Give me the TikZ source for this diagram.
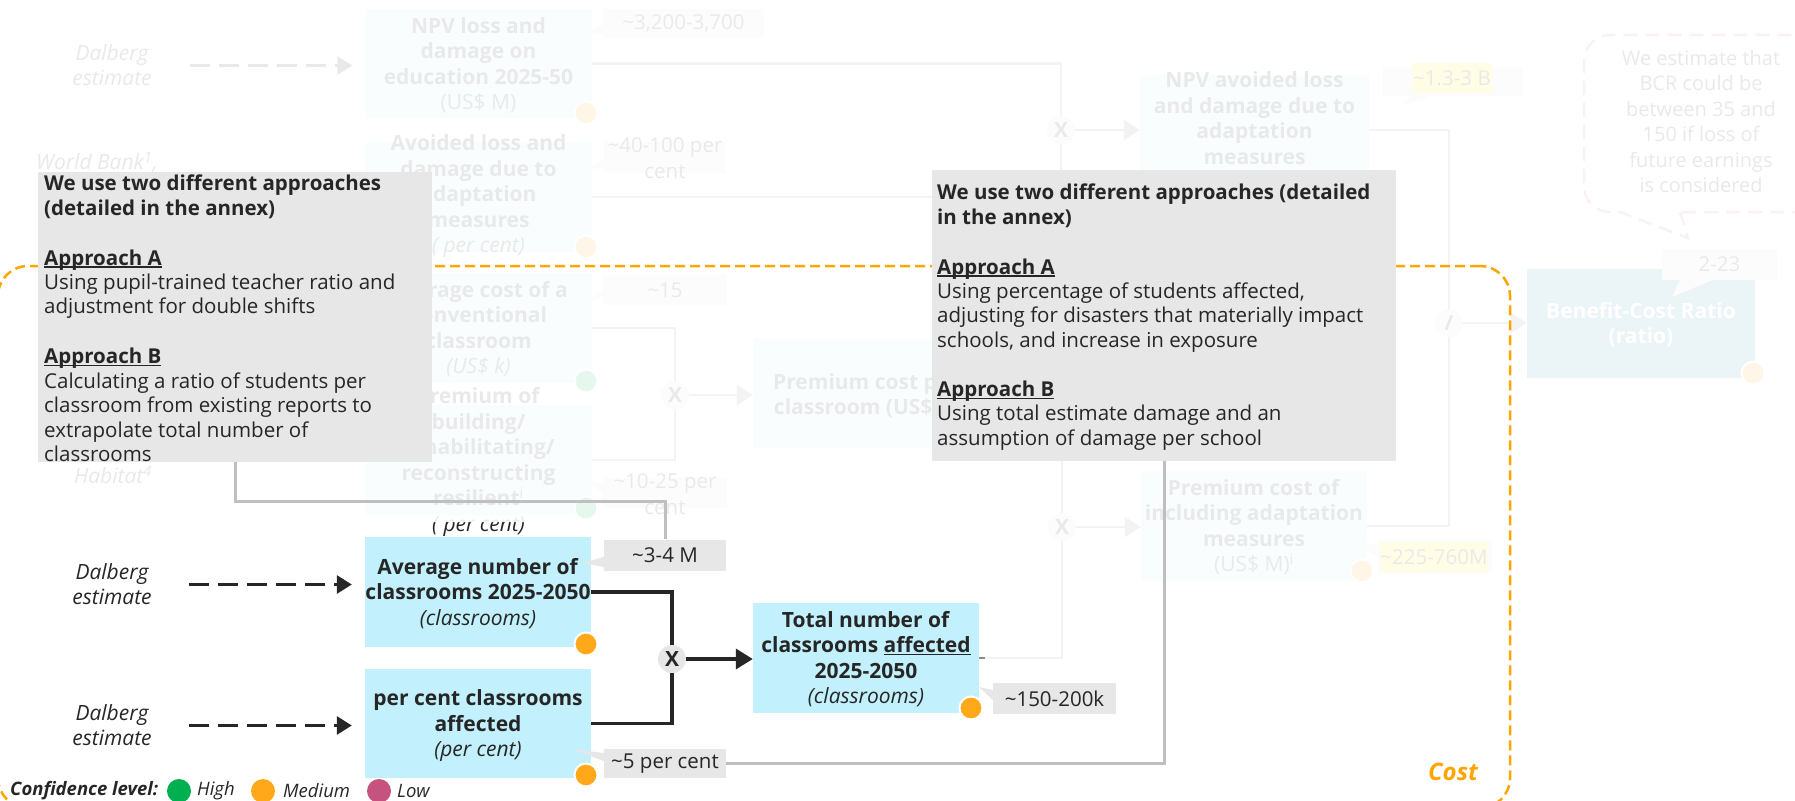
\documentclass[tikz,border=0pt]{standalone}
\usepackage{fontspec}
\setmainfont{Open Sans}
\usetikzlibrary{arrows.meta}

\definecolor{ink}{HTML}{262626}
\definecolor{cyanbox}{HTML}{C2F0FC}
\definecolor{greybox}{HTML}{E7E7E7}
\definecolor{dotorange}{HTML}{FFA91A}
\definecolor{dotgreen}{HTML}{00B050}
\definecolor{dotpink}{HTML}{C5527F}
\definecolor{costorange}{HTML}{FFA500}
\definecolor{linkgrey}{HTML}{BFBFBF}
\definecolor{bgline}{HTML}{8C8C8C}
\definecolor{bcrteal}{HTML}{3A92B0}
\definecolor{xfill}{HTML}{E6E6E6}
\definecolor{bubblepink}{HTML}{D86E8C}

\newcommand\bxfont{\fontsize{21}{25.5}\selectfont}
\newcommand\grfont{\fontsize{20.5}{24.4}\selectfont}
\newcommand\clfont{\fontsize{20.5}{26}\selectfont}
\newcommand\lbfont{\itshape\fontsize{21}{25}\selectfont}
\newcommand\lgfont{\fontsize{18.5}{21}\selectfont}
% underline drawn just under the baseline, through the descenders
\newcommand\ulbase[1]{\setbox0\hbox{#1}\rlap{\rule[-2.6pt]{\wd0}{1.3pt}}\box0}

\tikzset{
  cbox/.style={rectangle, fill=cyanbox, inner sep=0pt, minimum width=226pt, minimum height=110pt},
  btxt/.style={align=center, font=\bxfont, text=ink, inner sep=0pt},
  note/.style={rectangle, fill=greybox, inner sep=0pt},
  ntxt/.style={align=left, font=\grfont, text=ink, inner sep=0pt, anchor=north west},
  callout/.style={rectangle, fill=greybox, inner sep=0pt, minimum width=122pt, minimum height=31pt, font=\clfont, text=ink, align=center},
  lbl/.style={align=center, font=\lbfont, text=ink, inner sep=0pt},
  dot/.style={circle, fill=#1, draw=white, line width=2pt, minimum size=23pt, inner sep=0pt},
  legdot/.style={circle, fill=#1, minimum size=24pt, inner sep=0pt},
  opnode/.style={circle, fill=xfill, minimum size=28pt, inner sep=0pt, font=\bxfont\bfseries, text=ink},
  dasharrow/.style={draw=ink, line width=3pt, dash pattern=on 20pt off 9pt, -{Triangle[length=15pt,width=18pt]}},
  blk/.style={draw=ink, line width=3.5pt},
  blkarrow/.style={blk, -{Triangle[length=17pt,width=20pt]}},
  link/.style={draw=linkgrey, line width=3pt},
  bgl/.style={draw=bgline, line width=2.5pt},
  bgarrow/.style={bgl, -{Triangle[length=16pt,width=20pt]}},
}

\begin{document}
\begin{tikzpicture}[x=1pt,y=-1pt]
\useasboundingbox (0,0) rectangle (1795,800);
\clip (0,0) rectangle (1795,800);

% ===== benefit side and cost premium (shown greyed out) =====
\node[lbl] (dal0) at (112,65.5) {Dalberg\\estimate};
\node[lbl, anchor=west] (wb) at (36,162) {World Bank\textsuperscript{1},};
\node[lbl] (hab) at (113,475) {Habitat\textsuperscript{4}};

\node[cbox, minimum height=109pt] (b1) at (478.5,63.5) {};
\node[cbox] (b2) at (478.5,197) {};
\node[cbox] (b3) at (478.5,328) {};
\node[cbox] (b4) at (478.5,460) {};
\node[cbox, minimum height=109pt] (b5) at (866,393.5) {};
\node[cbox] (b6) at (1254,526) {};
\node[cbox, minimum width=229pt] (b7) at (1254.5,130) {};
\node[rectangle, fill=bcrteal, inner sep=0pt, minimum width=228pt, minimum height=109pt] (bcr) at (1641,323.5) {};

\draw[dasharrow] ([xshift=38pt]dal0.east) -- ([xshift=-13pt]b1.west |- dal0.east);

% operators
\node[opnode] (xa) at (1061,130) {X};
\node[opnode] (xb) at (675,395) {X};
\node[opnode] (xc) at (1062,527) {X};
\node[opnode] (xs) at (1449,323) {/};

% total classrooms affected (feeds the premium branch)
\node[cbox] (tot) at (866,658) {};
\node[btxt] (tott) at (866,659) {\textbf{Total number of}\\\textbf{classrooms \ulbase{affected}}\\\textbf{2025-2050}\\\textit{(classrooms)}};
\node[dot=dotorange] (totd) at (971,708) {};

\draw[bgl] (b1.east) -| (xa.north);
\draw[bgl] (b2.east) -| (xa.south);
\draw[bgarrow] (xa.east) -- (xa.east -| b7.west);
\draw[bgl] (b3.east) -| (xb.north);
\draw[bgl] (b4.east) -| (xb.south);
\draw[bgarrow] (xb.east) -- (xb.east -| b5.west);
\draw[bgl] (b5.east) -| (xc.north);
\draw[bgl] (tot.east) -| (xc.south);
\draw[bgarrow] (xc.east) -- (xc.east -| b6.west);
\draw[bgl] (b7.east) -| (xs.north);
\draw[bgl] (b6.east) -| (xs.south);
\draw[bgarrow] (xs.east) -- (xs.east -| bcr.west);

\node[btxt] (b1t) at (478.5,65) {\textbf{NPV loss and}\\\textbf{damage on}\\\textbf{education 2025-50}\\(US\$ M)};
\node[btxt] (b2t) at (478.5,196.5) {\textbf{Avoided loss and}\\\textbf{damage due to}\\\textbf{adaptation}\\\textbf{measures}\\\textit{( per cent)}};
\node[btxt] (b3t) at (478.5,329) {\textbf{Average cost of a}\\\textbf{conventional}\\\textbf{classroom}\\\textit{(US\$ k)}};
\node[btxt] (b4t) at (478.5,462) {\textbf{Premium of}\\\textbf{building/}\\\textbf{rehabilitating/}\\\textbf{reconstructing}\\\textbf{resilient}\textsuperscript{i}\\\textit{( per cent)}};
\node[btxt] (b5t) at (866,395.5) {\textbf{Premium cost per}\\\textbf{classroom (US\$ k)}};
\node[btxt] (b6t) at (1254,527) {\textbf{Premium cost of}\\\textbf{including adaptation}\\\textbf{measures}\\(US\$ M)\textsuperscript{i}};
\node[btxt] (b7t) at (1254.5,118) {\textbf{NPV avoided loss}\\\textbf{and damage due to}\\\textbf{adaptation}\\\textbf{measures}};
\node[btxt, text=white] (bcrt) at (1641,324.5) {\textbf{Benefit-Cost Ratio}\\\textbf{(ratio)}};

\node[dot=dotorange] (b1d) at (586,113) {};
\node[dot=dotorange] (b2d) at (586,247) {};
\node[dot=dotgreen] (b3d) at (586,381) {};
\node[dot=dotgreen] (b4d) at (586,508) {};
\node[dot=dotorange] (b6d) at (1362,571) {};
\node[dot=dotorange] (bcrd) at (1753,373) {};

% value callouts
\node[callout, minimum width=161pt, minimum height=29pt] (c3200) at (683.5,23.5) {\textasciitilde 3,200-3,700};
\fill[greybox] ([yshift=-2pt]c3200.west) -- (577,35) -- ([yshift=-10pt]c3200.west) -- cycle;
\node[callout] (c40) at (665,157.5) {};
\fill[greybox] ([yshift=-2.5pt]c40.west) -- (577,173) -- ([yshift=-9.5pt]c40.west) -- cycle;
\node[font=\clfont, text=ink, align=center, inner sep=0pt] (c40t) at (665,158.5) {\textasciitilde 40-100 per\\cent};
\node[callout, minimum width=124pt, minimum height=30pt] (c15) at (665,290) {\textasciitilde 15};
\fill[greybox] ([yshift=-2pt]c15.west) -- (577,305) -- ([yshift=-7pt]c15.west) -- cycle;
\node[callout, minimum width=124pt, minimum height=30pt] (c10) at (665,493) {};
\fill[greybox] ([yshift=9pt]c10.west) -- (578,478) -- ([yshift=1pt]c10.west) -- cycle;
\node[font=\clfont, text=ink, align=center, inner sep=0pt] (c10t) at (665,494.5) {\textasciitilde 10-25 per\\cent};
\node[callout, minimum width=140pt, minimum height=29pt] (c13) at (1453,81.5) {};
\fill[greybox] ([xshift=27pt]c13.south west) -- (1402,106) -- ([xshift=47pt]c13.south west) -- cycle;
\node[fill=yellow, inner sep=0pt, minimum width=80pt, minimum height=30pt, font=\clfont, text=ink] (c13t) at (1452,78) {\textasciitilde 1.3-3 B};
\node[callout, minimum width=115pt, minimum height=31pt] (c223) at (1719.5,264.5) {2-23};
\fill[greybox] ([xshift=18pt]c223.south west) -- (1672,297) -- ([xshift=50pt]c223.south west) -- cycle;
\node[callout, minimum width=114pt, minimum height=33pt] (c225) at (1435,556.5) {};
\fill[greybox] ([yshift=10pt]c225.west) -- (1343,537) -- ([yshift=0pt]c225.west) -- cycle;
\node[fill=yellow, inner sep=0pt, minimum width=108pt, minimum height=30pt, font=\clfont, text=ink] (c225t) at (1434,557) {\textasciitilde 225-760M};

% speech bubble on the ratio
\draw[bubblepink, line width=2.5pt, dash pattern=on 14pt off 8pt] (1680,212) -- (1688,238) -- (1620,212) [rounded corners=26pt] -- (1584,212) -- (1584,35) -- (1830,35) [sharp corners] -- (1830,212) -- cycle;
\node[font=\fontsize{20}{25.4}\selectfont, text=ink, align=center, inner sep=0pt] (bub) at (1701,121.5) {We estimate that\\BCR could be\\between 35 and\\150 if loss of\\future earnings\\is considered};

% wash over everything outside the cost build-up
\fill[white, opacity=0.9] (-5,-5) rectangle (1800,522) (985,522) rectangle (1800,805);

% ===== cost frame =====
\node[draw=costorange, line width=2.5pt, dash pattern=on 10pt off 5pt, rounded corners=30pt, minimum width=1512pt, minimum height=542pt, inner sep=0pt] (costzone) at (754,537) {};
\node[font=\bfseries\itshape\fontsize{24}{28}\selectfont, text=costorange, inner sep=0pt] (costlbl) at (1453,772) {Cost};

% ===== method notes =====
\node[note, minimum width=394pt, minimum height=290pt] (nl) at (235,317) {};
\node[ntxt] (nlt) at (44,175) {\textbf{We use two different approaches}\\\textbf{(detailed in the annex)}\\[25.5pt]\ulbase{\textbf{Approach A}}\\Using pupil-trained teacher ratio and\\adjustment for double shifts\\[25.5pt]\ulbase{\textbf{Approach B}}\\Calculating a ratio of students per\\classroom from existing reports to\\extrapolate total number of\\classrooms};
\node[note, minimum width=464pt, minimum height=291pt] (nr) at (1164,315.5) {};
\node[ntxt] (nrt) at (937,184) {\textbf{We use two different approaches (detailed}\\\textbf{in the annex)}\\[25.5pt]\ulbase{\textbf{Approach A}}\\Using percentage of students affected,\\adjusting for disasters that materially impact\\schools, and increase in exposure\\[24.5pt]\ulbase{\textbf{Approach B}}\\Using total estimate damage and an\\assumption of damage per school};

% ===== classroom count chain =====
\node[lbl] (dal1) at (112,584.5) {Dalberg\\estimate};
\node[lbl] (dal2) at (112,725.5) {Dalberg\\estimate};
\node[cbox] (avg) at (478,592) {};
\node[cbox, minimum height=109pt] (pct) at (478,723.5) {};
\draw[dasharrow] ([xshift=37pt]dal1.east) -- ([xshift=-13pt]avg.west |- dal1.east);
\draw[dasharrow] ([xshift=37pt]dal2.east) -- ([xshift=-13pt]pct.west |- dal2.east);
\node[btxt] (avgt) at (478,593.5) {\textbf{Average number of}\\\textbf{classrooms 2025-2050}\\\textit{(classrooms)}};
\node[btxt] (pctt) at (478,726) {\textbf{per cent classrooms}\\\textbf{affected}\\\textit{(per cent)}};
\node[dot=dotorange] (avgd) at (586,644) {};
\node[dot=dotorange] (pctd) at (586,775) {};

\node[opnode] (x1) at (672,659) {X};
\draw[blk] (avg.east) -| (x1.north);
\draw[blk] (pct.east) -| (x1.south);
\draw[blkarrow] (x1.east) -- (x1.east -| tot.west);

\node[callout] (c34) at (665,555) {\textasciitilde 3-4 M};
\fill[greybox] ([yshift=-2pt]c34.west) -- (582,563) -- ([yshift=-12pt]c34.west) -- cycle;
\node[callout, minimum height=29pt] (c5) at (665,763.5) {\textasciitilde 5 per cent};
\fill[greybox] ([yshift=10.5pt]c5.west) -- (571,749) -- ([yshift=2.5pt]c5.west) -- cycle;
\node[callout, minimum width=123pt] (c150) at (1054.5,698.5) {\textasciitilde 150-200k};
\fill[greybox] ([yshift=8.5pt]c150.west) -- (979,687) -- ([yshift=-1.5pt]c150.west) -- cycle;

% notes tied to the values they explain
\draw[link] (nl.south) |- ([yshift=38pt]c34.north) -- (c34.north);
\draw[link] (c5.east) -| (nr.south);

% ===== legend =====
\node[font=\lgfont\bfseries\itshape, text=ink, anchor=west, inner sep=0pt] (legt) at (10,791) {Confidence level:};
\node[legdot=dotgreen] (leg1) at (179,791) {};
\node[font=\lgfont\itshape, text=ink, anchor=west, inner sep=0pt] (leg1t) at (197,791) {High};
\node[legdot=dotorange] (leg2) at (263,791) {};
\node[font=\lgfont\itshape, text=ink, anchor=west, inner sep=0pt] (leg2t) at (283,791) {Medium};
\node[legdot=dotpink] (leg3) at (379,791) {};
\node[font=\lgfont\itshape, text=ink, anchor=west, inner sep=0pt] (leg3t) at (397,791) {Low};
\end{tikzpicture}
\end{document}
